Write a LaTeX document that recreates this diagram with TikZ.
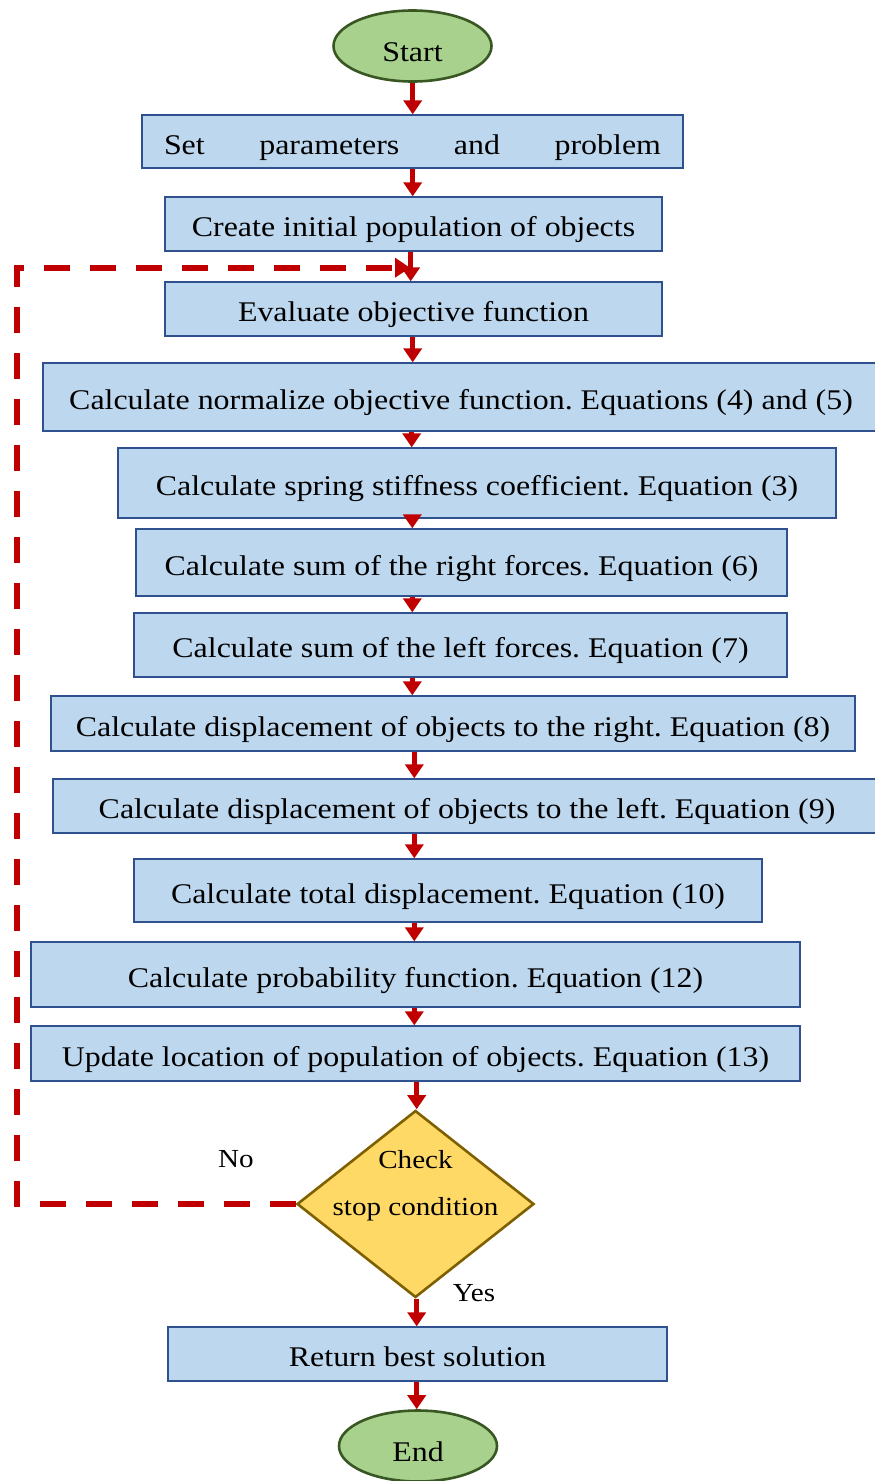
\documentclass[tikz,border=0pt]{standalone}
\usepackage{fontspec}
\setmainfont[FakeStretch=1.12]{Liberation Serif}
\usetikzlibrary{shapes.geometric,arrows.meta}
\definecolor{boxfill}{HTML}{BDD7EE}
\definecolor{boxline}{HTML}{2F528F}
\definecolor{ellfill}{HTML}{A9D18E}
\definecolor{ellline}{HTML}{385723}
\definecolor{diafill}{HTML}{FFD966}
\definecolor{dialine}{HTML}{7F6000}
\definecolor{arr}{HTML}{C00000}
\begin{document}
\frenchspacing
\begin{tikzpicture}[x=1pt,y=-1pt,
  txt/.style={font=\fontsize{28.5}{32}\selectfont},
  procbox/.style={draw=boxline,fill=boxfill,line width=1.3pt,inner sep=0pt,txt,text height=25.4pt,text depth=0pt},
  term/.style={ellipse,draw=ellline,fill=ellfill,line width=2.6pt,inner sep=0pt,txt,text height=31pt,text depth=0pt,minimum width=158pt,minimum height=71pt},
  decis/.style={diamond,draw=dialine,fill=diafill,line width=2.6pt,inner sep=0pt,minimum width=237pt,minimum height=187pt},
  flow/.style={draw=arr,line width=4.5pt,-{Triangle[width=18pt,length=14pt]}},
  loopline/.style={draw=arr,line width=6pt,dash pattern=on 26pt off 20pt,-{Triangle[width=19pt,length=15pt]}},
  lbl/.style={font=\fontsize{26}{30}\selectfont,inner sep=0pt}]
\useasboundingbox (0,0) rectangle (875,1481);

\node[term] (start) at (412.5,46) {Start};
\node[procbox,minimum width=541pt,minimum height=53pt] (b1) at (412.5,141.5) {\makebox[497pt][s]{Set parameters and problem}};
\node[procbox,minimum width=497pt,minimum height=54pt] (b2) at (413.5,224) {Create initial population of objects};
\node[procbox,minimum width=497pt,minimum height=54pt] (b3) at (413.5,309) {Evaluate objective function};
\node[procbox,minimum width=836pt,minimum height=68pt] (b4) at (461,397) {Calculate normalize objective function. Equations (4) and (5)};
\node[procbox,minimum width=718pt,minimum height=70pt] (b5) at (477,483) {Calculate spring stiffness coefficient. Equation (3)};
\node[procbox,minimum width=651pt,minimum height=67pt] (b6) at (461.5,562.5) {Calculate sum of the right forces. Equation (6)};
\node[procbox,minimum width=653pt,minimum height=64pt] (b7) at (460.5,645) {Calculate sum of the left forces. Equation (7)};
\node[procbox,minimum width=804pt,minimum height=55pt] (b8) at (453,723.5) {Calculate displacement of objects to the right. Equation (8)};
\node[procbox,minimum width=828pt,minimum height=54pt] (b9) at (467,806) {Calculate displacement of objects to the left. Equation (9)};
\node[procbox,minimum width=628pt,minimum height=63pt] (b10) at (448,890.5) {Calculate total displacement. Equation (10)};
\node[procbox,minimum width=769pt,minimum height=65pt] (b11) at (415.5,974.5) {Calculate probability function. Equation (12)};
\node[procbox,minimum width=769pt,minimum height=55pt] (b12) at (415.5,1053.5) {Update location of population of objects. Equation (13)};
\node[decis] (dia) at (415.5,1204) {};
\node[lbl,align=center,font=\fontsize{26}{47}\selectfont] (diatext) at (415.5,1186) {Check\\stop condition};
\node[procbox,minimum width=499pt,minimum height=54pt] (b13) at (417.5,1354) {Return best solution};
\node[term] (end) at (418,1446) {End};
\node[lbl] (no) at (236,1159) {No};
\node[lbl] (yes) at (474,1293) {Yes};

\coordinate (lc1) at (17,1204);
\coordinate (lc2) at (17,267.7);
\coordinate (lc3) at (410,267.7);
\draw[loopline] (dia.west) -- (lc1) -- (lc2) -- (lc3);

\draw[flow] (start.south -| 412.7,0) -- (b1.north -| 412.7,0);
\draw[flow] (b1.south -| 412.7,0) -- (b2.north -| 412.7,0);
\draw[flow] (b2.south -| 410.7,0) -- (b3.north -| 410.7,0);
\draw[flow] (b3.south -| 412.7,0) -- (b4.north -| 412.7,0);
\draw[flow] (b4.south -| 411.7,0) -- (b5.north -| 411.7,0);
\draw[flow] (b5.south -| 412.3,0) -- (b6.north -| 412.3,0);
\draw[flow] (b6.south -| 412.3,0) -- (b7.north -| 412.3,0);
\draw[flow] (b7.south -| 412.3,0) -- (b8.north -| 412.3,0);
\draw[flow] (b8.south -| 414.3,0) -- (b9.north -| 414.3,0);
\draw[flow] (b9.south -| 414.3,0) -- (b10.north -| 414.3,0);
\draw[flow] (b10.south -| 414.3,0) -- (b11.north -| 414.3,0);
\draw[flow] (b11.south -| 414.3,0) -- (b12.north -| 414.3,0);
\draw[flow] (b12.south -| 416.7,0) -- (dia.north -| 416.7,0);
\draw[flow] (dia.south -| 416.7,0) -- (b13.north -| 416.7,0);
\draw[flow] (b13.south -| 416.7,0) -- (end.north -| 416.7,0);
\end{tikzpicture}
\end{document}
